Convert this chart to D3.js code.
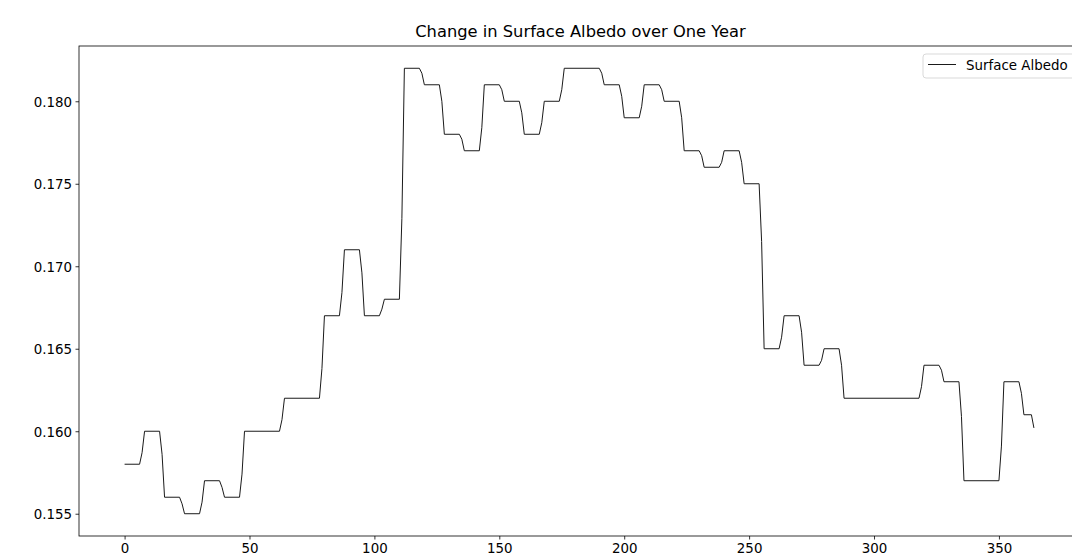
<!DOCTYPE html>
<html>
<head>
<meta charset="utf-8">
<script src="https://cdn.jsdelivr.net/npm/d3@7"></script>
<style>
    body { margin: 0; background: #fff; }
    svg { display: block; font-family: "DejaVu Sans", sans-serif; }
</style>
</head>
<body>
<script>
//days where the albedo line has a corner (plateau start, plateau end, ramp)
var days = [
    0, 6, 7,      8, 14, 15,    16, 22, 23,   24, 30, 31,
    32, 38, 39,   40, 46, 47,   48, 62, 63,   64, 78, 79,
    80, 86, 87,   88, 94, 95,   96, 102, 103, 104, 110, 111,
    112, 118, 119, 120, 126, 127, 128, 134, 135, 136, 142, 143,
    144, 150, 151, 152, 158, 159, 160, 166, 167, 168, 174, 175,
    176, 190, 191, 192, 198, 199, 200, 206, 207, 208, 214, 215,
    216, 222, 223, 224, 230, 231, 232, 238, 239, 240, 246, 247,
    248, 254, 255, 256, 262, 263, 264, 270, 271, 272, 278, 279,
    280, 286, 287, 288, 318, 319, 320, 326, 327, 328, 334, 335,
    336, 350, 351, 352, 358, 359, 360, 363, 364
];

//surface albedo read at those days
var albedo = [
    0.158, 0.158, 0.1587,   0.160, 0.160, 0.1586,   0.156, 0.156, 0.1556,   0.155, 0.155, 0.1557,
    0.157, 0.157, 0.1566,   0.156, 0.156, 0.1574,   0.160, 0.160, 0.1607,   0.162, 0.162, 0.1638,
    0.167, 0.167, 0.1684,   0.171, 0.171, 0.1696,   0.167, 0.167, 0.1674,   0.168, 0.168, 0.1729,
    0.182, 0.182, 0.1817,   0.181, 0.181, 0.1800,   0.178, 0.178, 0.1777,   0.177, 0.177, 0.1784,
    0.181, 0.181, 0.1807,   0.180, 0.180, 0.1793,   0.178, 0.178, 0.1787,   0.180, 0.180, 0.1807,
    0.182, 0.182, 0.1817,   0.181, 0.181, 0.1803,   0.179, 0.179, 0.1797,   0.181, 0.181, 0.1807,
    0.180, 0.180, 0.1790,   0.177, 0.177, 0.1767,   0.176, 0.176, 0.1763,   0.177, 0.177, 0.1763,
    0.175, 0.175, 0.1715,   0.165, 0.165, 0.1657,   0.167, 0.167, 0.1660,   0.164, 0.164, 0.1643,
    0.165, 0.165, 0.1640,   0.162, 0.162, 0.1627,   0.164, 0.164, 0.1637,   0.163, 0.163, 0.1609,
    0.157, 0.157, 0.1591,   0.163, 0.163, 0.1623,   0.161, 0.161, 0.1602
];

var xTicks = [0, 50, 100, 150, 200, 250, 300, 350];
var yTicks = [0.155, 0.160, 0.165, 0.170, 0.175, 0.180];

var chartTitle = "Change in Surface Albedo over One Year";
var seriesName = "Surface Albedo";

window.onload = drawChart();

function drawChart(){

    //svg size matches the window, the plot box runs past the right edge like the original
    var width = 1072,
        height = 558;

    var left = 79,
        top = 46,
        right = 1082,
        bottom = 536;

    var svg = d3.select("body")
        .append("svg")
        .attr("width", width)
        .attr("height", height);

    //matplotlib style 5% padding around the data
    var x = d3.scaleLinear()
        .domain([-18.25, 383.25])
        .range([left, right]);

    var y = d3.scaleLinear()
        .domain([0.15365, 0.18335])
        .range([bottom, top]);

    var points = days.map(function(d, i){ return [d, albedo[i]]; });

    var line = d3.line()
        .x(function(d){ return x(d[0]); })
        .y(function(d){ return y(d[1]); });

    svg.append("path")
        .datum(points)
        .attr("d", line)
        .attr("fill", "none")
        .attr("stroke", "#1a1a1a")
        .attr("stroke-width", 1)
        .attr("stroke-linejoin", "round");

    //axes
    var xAxis = d3.axisBottom(x)
        .tickValues(xTicks)
        .tickSize(3.5)
        .tickPadding(3.5)
        .tickFormat(d3.format("d"));

    var yAxis = d3.axisLeft(y)
        .tickValues(yTicks)
        .tickSize(3.5)
        .tickPadding(3.5)
        .tickFormat(d3.format(".3f"));

    var gx = svg.append("g")
        .attr("transform", "translate(0," + bottom + ")")
        .call(xAxis);

    var gy = svg.append("g")
        .attr("transform", "translate(" + left + ",0)")
        .call(yAxis);

    [gx, gy].forEach(function(g){
        g.select(".domain").remove();
        g.selectAll(".tick line").attr("stroke", "#000").attr("stroke-width", 0.8);
        g.selectAll(".tick text")
            .attr("fill", "#000")
            .style("font-size", "13.4px")
            .style("font-family", "DejaVu Sans");
    });
    gx.selectAll(".tick text").attr("dy", "0.76em");
    gy.selectAll(".tick text").attr("dy", "0.36em");

    //frame around the plot
    svg.append("rect")
        .attr("x", left)
        .attr("y", top)
        .attr("width", right - left)
        .attr("height", bottom - top)
        .attr("fill", "none")
        .attr("stroke", "#000")
        .attr("stroke-width", 0.8);

    //title
    svg.append("text")
        .attr("x", (left + right) / 2)
        .attr("y", 36.5)
        .attr("text-anchor", "middle")
        .style("font-size", "16.3px")
        .text(chartTitle);

    //legend in the upper right corner
    var legend = svg.append("g")
        .attr("transform", "translate(" + (right - 159) + "," + (top + 8) + ")");

    legend.append("rect")
        .attr("width", 152)
        .attr("height", 24)
        .attr("rx", 3)
        .attr("fill", "#fff")
        .attr("fill-opacity", 0.8)
        .attr("stroke", "#d9d9d9")
        .attr("stroke-width", 1);

    legend.append("line")
        .attr("x1", 5)
        .attr("x2", 33)
        .attr("y1", 10.5)
        .attr("y2", 10.5)
        .attr("stroke", "#1a1a1a")
        .attr("stroke-width", 1);

    legend.append("text")
        .attr("x", 43)
        .attr("y", 16)
        .style("font-size", "13.4px")
        .text(seriesName);
};
</script>
</body>
</html>
